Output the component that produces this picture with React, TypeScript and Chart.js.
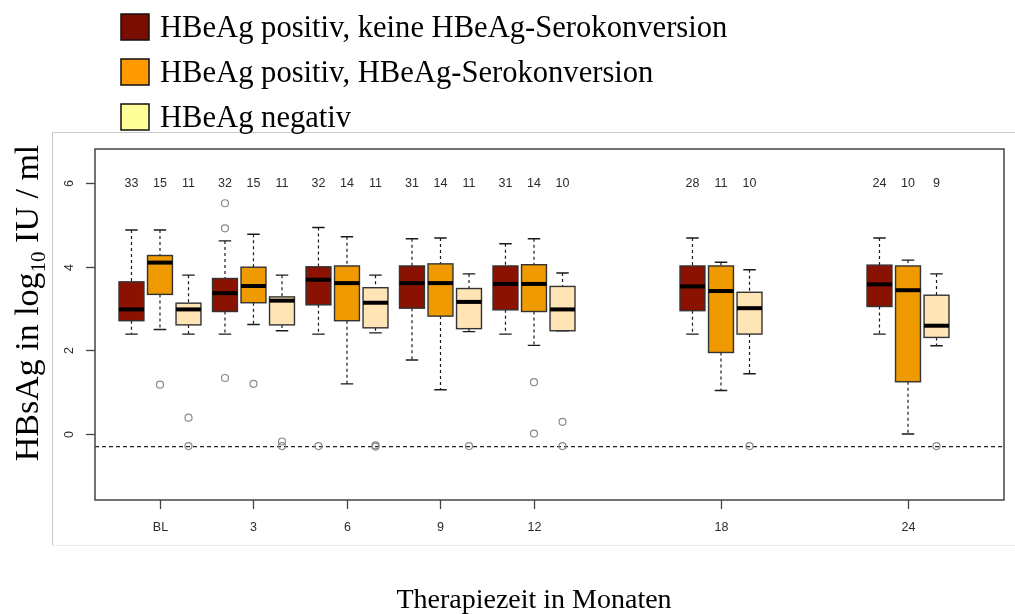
import React, { useEffect, useRef } from "react";
import { Chart, registerables } from "chart.js";

Chart.register(...registerables);

// ---------- data ----------
const months = [0, 3, 6, 9, 12, 18, 24];
const xTickLabels = ["BL", "3", "6", "9", "12", "18", "24"];
const yTickValues = [0, 2, 4, 6];
const yTickLabels = ["0", "2", "4", "6"];
const lloqValue = -0.3;

const seriesNames = [
  "HBeAg positiv, keine HBeAg-Serokonversion",
  "HBeAg positiv, HBeAg-Serokonversion",
  "HBeAg negativ",
];

// Series A: HBeAg positiv, keine Serokonversion
const nA = [33, 32, 32, 31, 31, 28, 24];
const highA = [4.88, 4.62, 4.94, 4.67, 4.55, 4.69, 4.69];
const q3A = [3.64, 3.72, 4.0, 4.02, 4.02, 4.02, 4.04];
const medA = [2.98, 3.37, 3.69, 3.61, 3.59, 3.53, 3.58];
const q1A = [2.71, 2.93, 3.09, 3.01, 2.97, 2.95, 3.05];
const lowA = [2.39, 2.39, 2.39, 1.77, 2.39, 2.39, 2.39];
const outA = [[], [5.52, 4.92, 1.34], [-0.29], [], [], [], []];

// Series B: HBeAg positiv, Serokonversion
const nB = [15, 15, 14, 14, 14, 11, 10];
const highB = [4.88, 4.78, 4.72, 4.69, 4.67, 4.11, 4.16];
const q3B = [4.27, 3.99, 4.02, 4.07, 4.05, 4.02, 4.02];
const medB = [4.1, 3.54, 3.61, 3.61, 3.59, 3.42, 3.44];
const q1B = [3.34, 3.14, 2.71, 2.82, 2.93, 1.95, 1.25];
const lowB = [2.5, 2.62, 1.2, 1.06, 2.12, 1.04, 0.0];
const outB = [[1.18], [1.2], [], [], [1.24, 0.01], [], []];

// Series C: HBeAg negativ
const nC = [11, 11, 11, 11, 10, 10, 9];
const highC = [3.8, 3.8, 3.8, 3.83, 3.85, 3.93, 3.83];
const q3C = [3.13, 3.28, 3.5, 3.48, 3.53, 3.39, 3.32];
const medC = [2.98, 3.19, 3.14, 3.16, 2.98, 3.01, 2.59];
const q1C = [2.61, 2.61, 2.54, 2.52, 2.47, 2.39, 2.31];
const lowC = [2.39, 2.47, 2.42, 2.45, 2.47, 1.44, 2.11];
const outC = [[0.39, -0.29], [-0.18, -0.29], [-0.27, -0.3], [-0.29], [0.29, -0.29], [-0.29], [-0.29]];

// ---------- styling ----------
const boxColors = ["#8B1100", "#EF9A00", "#FFE4B5"];
const legendColors = ["#7B0C00", "#FF9900", "#FFFF99"];
const groupOffsets = [-0.915, 0, 0.915];
const boxHalf = 0.4;
const X_MIN = -2.085;
const X_MAX = 27.08;
const Y_MIN = -1.579;
const Y_MAX = 6.818;

const series = [
  { n: nA, high: highA, q3: q3A, med: medA, q1: q1A, low: lowA, out: outA },
  { n: nB, high: highB, q3: q3B, med: medB, q1: q1B, low: lowB, out: outB },
  { n: nC, high: highC, q3: q3C, med: medC, q1: q1C, low: lowC, out: outC },
];

const SANS = '"Liberation Sans", Arial, sans-serif';
const SERIF = '"Liberation Serif", "Times New Roman", serif';

const boxPlugin = {
  id: "boxplots",
  afterDatasetsDraw(chart: any) {
    const { ctx } = chart;
    const x = chart.scales.x;
    const y = chart.scales.y;
    series.forEach((s, si) => {
      months.forEach((m, i) => {
        const xc = m + groupOffsets[si];
        const cx = x.getPixelForValue(xc);
        const left = x.getPixelForValue(xc - boxHalf);
        const right = x.getPixelForValue(xc + boxHalf);
        const hw = (right - left) / 2;
        const pHigh = y.getPixelForValue(s.high[i]);
        const pQ3 = y.getPixelForValue(s.q3[i]);
        const pMed = y.getPixelForValue(s.med[i]);
        const pQ1 = y.getPixelForValue(s.q1[i]);
        const pLow = y.getPixelForValue(s.low[i]);
        ctx.save();
        // whiskers
        ctx.strokeStyle = "#1a1a1a";
        ctx.lineWidth = 1.2;
        ctx.setLineDash([3, 3]);
        ctx.beginPath();
        ctx.moveTo(cx, pHigh);
        ctx.lineTo(cx, pQ3);
        ctx.moveTo(cx, pQ1);
        ctx.lineTo(cx, pLow);
        ctx.stroke();
        ctx.setLineDash([]);
        ctx.lineWidth = 1.4;
        ctx.beginPath();
        ctx.moveTo(cx - hw / 2, pHigh);
        ctx.lineTo(cx + hw / 2, pHigh);
        ctx.moveTo(cx - hw / 2, pLow);
        ctx.lineTo(cx + hw / 2, pLow);
        ctx.stroke();
        // box
        ctx.fillStyle = boxColors[si];
        ctx.fillRect(left, pQ3, right - left, pQ1 - pQ3);
        ctx.strokeStyle = "#333";
        ctx.lineWidth = 1.4;
        ctx.strokeRect(left, pQ3, right - left, pQ1 - pQ3);
        // median
        ctx.strokeStyle = "#000";
        ctx.lineWidth = 4;
        ctx.beginPath();
        ctx.moveTo(left, pMed);
        ctx.lineTo(right, pMed);
        ctx.stroke();
        ctx.restore();
      });
    });
  },
};

const decorPlugin = {
  id: "decor",
  afterDraw(chart: any) {
    const { ctx, chartArea } = chart;
    const x = chart.scales.x;
    const y = chart.scales.y;
    const { left, right, top, bottom } = chartArea;
    ctx.save();

    // outer image frame (light gray)
    ctx.strokeStyle = "#c9c9c9";
    ctx.lineWidth = 1;
    ctx.beginPath();
    ctx.moveTo(1015, 132.5);
    ctx.lineTo(52.5, 132.5);
    ctx.lineTo(52.5, 545.5);
    ctx.stroke();
    ctx.strokeStyle = "#e8e8e8";
    ctx.beginPath();
    ctx.moveTo(52.5, 545.5);
    ctx.lineTo(1015, 545.5);
    ctx.stroke();

    // plot box
    ctx.strokeStyle = "#444";
    ctx.lineWidth = 1.5;
    ctx.strokeRect(left, top, right - left, bottom - top);

    // x ticks
    ctx.fillStyle = "#2b2b2b";
    ctx.font = `12.5px ${SANS}`;
    ctx.textAlign = "center";
    ctx.textBaseline = "middle";
    ctx.lineWidth = 1.3;
    months.forEach((m, i) => {
      const px = Math.round(x.getPixelForValue(m)) + 0.5;
      ctx.beginPath();
      ctx.moveTo(px, bottom);
      ctx.lineTo(px, bottom + 9);
      ctx.stroke();
      ctx.fillText(xTickLabels[i], px, 528);
    });

    // y ticks (rotated labels)
    yTickValues.forEach((v, i) => {
      const py = Math.round(y.getPixelForValue(v)) + 0.5;
      ctx.beginPath();
      ctx.moveTo(left, py);
      ctx.lineTo(left - 9, py);
      ctx.stroke();
      ctx.save();
      ctx.translate(70, py);
      ctx.rotate(-Math.PI / 2);
      ctx.fillText(yTickLabels[i], 0, 0);
      ctx.restore();
    });

    // n labels
    ctx.font = `12.5px ${SANS}`;
    const nY = y.getPixelForValue(6);
    series.forEach((s, si) => {
      months.forEach((m, i) => {
        ctx.fillText(String(s.n[i]), x.getPixelForValue(m + groupOffsets[si]), nY);
      });
    });

    // x title
    ctx.fillStyle = "#000";
    ctx.font = `28px ${SERIF}`;
    ctx.textBaseline = "alphabetic";
    ctx.fillText("Therapiezeit in Monaten", 534, 608);

    // y title with subscript
    ctx.save();
    ctx.translate(38, 303);
    ctx.rotate(-Math.PI / 2);
    const mainFont = `34px ${SERIF}`;
    const subFont = `21px ${SERIF}`;
    const parts = [
      { t: "HBsAg in log", f: mainFont, dy: 0 },
      { t: "10", f: subFont, dy: 7 },
      { t: " IU / ml", f: mainFont, dy: 0 },
    ];
    let total = 0;
    parts.forEach((p) => {
      ctx.font = p.f;
      total += ctx.measureText(p.t).width;
    });
    let cur = -total / 2;
    ctx.textAlign = "left";
    parts.forEach((p) => {
      ctx.font = p.f;
      ctx.fillText(p.t, cur, p.dy);
      cur += ctx.measureText(p.t).width;
    });
    ctx.restore();

    // legend
    ctx.textAlign = "left";
    ctx.textBaseline = "alphabetic";
    ctx.font = `30.6px ${SERIF}`;
    seriesNames.forEach((name, i) => {
      const yc = 27 + i * 45;
      ctx.fillStyle = legendColors[i];
      ctx.fillRect(121, yc - 13, 28, 26);
      ctx.strokeStyle = "#111";
      ctx.lineWidth = 1.5;
      ctx.strokeRect(121, yc - 13, 28, 26);
      ctx.fillStyle = "#000";
      ctx.fillText(name, 160, yc + 10);
    });

    ctx.restore();
  },
};

export default function App() {
  const ref = useRef<HTMLCanvasElement | null>(null);

  useEffect(() => {
    if (!ref.current) return;
    const outlierSets = series.map((s, si) => ({
      type: "scatter" as const,
      label: seriesNames[si] + " Ausreißer",
      data: s.out.flatMap((vals, i) =>
        vals.map((v) => ({ x: months[i] + groupOffsets[si], y: v }))
      ),
      pointStyle: "circle",
      pointRadius: 3.5,
      pointBorderWidth: 1.2,
      pointBorderColor: "#8a8a8a",
      pointBackgroundColor: "rgba(0,0,0,0)",
      showLine: false,
      order: 1,
    }));
    const chart = new Chart(ref.current, {
      type: "scatter",
      data: {
        datasets: [
          ...outlierSets,
          {
            type: "line" as const,
            label: "LLOQ",
            data: [
              { x: X_MIN, y: lloqValue },
              { x: X_MAX, y: lloqValue },
            ],
            borderColor: "#222",
            borderWidth: 1.2,
            borderDash: [4, 3],
            pointRadius: 0,
            order: 10,
          },
        ] as any,
      },
      options: {
        responsive: false,
        animation: false,
        devicePixelRatio: 1,
        layout: { padding: { left: 95, top: 149, right: 11, bottom: 114 } },
        plugins: { legend: { display: false }, tooltip: { enabled: false } },
        scales: {
          x: { type: "linear", min: X_MIN, max: X_MAX, display: false },
          y: { type: "linear", min: Y_MIN, max: Y_MAX, display: false },
        },
      },
      plugins: [boxPlugin, decorPlugin],
    });
    return () => chart.destroy();
  }, []);

  return (
    <div style={{ position: "absolute", left: 0, top: 0, width: 1015, height: 614, background: "#fff" }}>
      <canvas ref={ref} width={1015} height={614} style={{ display: "block" }} />
    </div>
  );
}
